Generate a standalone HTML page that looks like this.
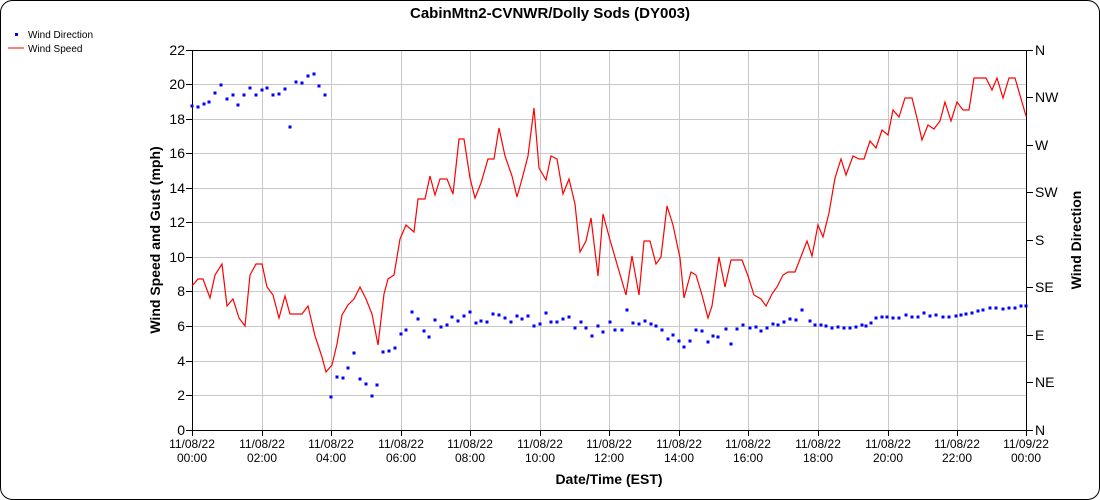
<!DOCTYPE html>
<html><head><meta charset="utf-8"><style>
html,body{margin:0;padding:0;background:#fff}
svg{display:block;font-family:"Liberation Sans",Arial,sans-serif}
</style></head><body>
<svg width="1100" height="500" viewBox="0 0 1100 500">
<rect x="0.5" y="0.5" width="1099" height="499" rx="12" fill="#fff" stroke="#000"/>
<text x="550" y="18" font-size="15" font-weight="bold" text-anchor="middle">CabinMtn2-CVNWR/Dolly Sods (DY003)</text>
<rect x="15" y="33" width="3" height="3" fill="#00f"/>
<text x="28" y="38" font-size="10">Wind Direction</text>
<line x1="8" y1="48" x2="24" y2="48" stroke="#f00"/>
<text x="28" y="52" font-size="10">Wind Speed</text>
<g stroke="#c8c8c8" stroke-width="1">
<line x1="192" y1="84.5" x2="1027" y2="84.5"/><line x1="192" y1="119.5" x2="1027" y2="119.5"/><line x1="192" y1="153.5" x2="1027" y2="153.5"/><line x1="192" y1="188.5" x2="1027" y2="188.5"/><line x1="192" y1="222.5" x2="1027" y2="222.5"/><line x1="192" y1="257.5" x2="1027" y2="257.5"/><line x1="192" y1="291.5" x2="1027" y2="291.5"/><line x1="192" y1="326.5" x2="1027" y2="326.5"/><line x1="192" y1="361.5" x2="1027" y2="361.5"/><line x1="192" y1="395.5" x2="1027" y2="395.5"/>
<line x1="262.5" y1="50" x2="262.5" y2="430"/><line x1="331.5" y1="50" x2="331.5" y2="430"/><line x1="401.5" y1="50" x2="401.5" y2="430"/><line x1="470.5" y1="50" x2="470.5" y2="430"/><line x1="540.5" y1="50" x2="540.5" y2="430"/><line x1="609.5" y1="50" x2="609.5" y2="430"/><line x1="679.5" y1="50" x2="679.5" y2="430"/><line x1="748.5" y1="50" x2="748.5" y2="430"/><line x1="818.5" y1="50" x2="818.5" y2="430"/><line x1="888.5" y1="50" x2="888.5" y2="430"/><line x1="957.5" y1="50" x2="957.5" y2="430"/>
</g>
<g stroke="#000">
<line x1="192.5" y1="50" x2="192.5" y2="430"/><line x1="1026.5" y1="50" x2="1026.5" y2="430"/><line x1="192" y1="430.5" x2="1027" y2="430.5"/><line x1="192" y1="50.5" x2="1027" y2="50.5"/>
<path d="M186 50.5h6M186 84.5h6M186 119.5h6M186 153.5h6M186 188.5h6M186 222.5h6M186 257.5h6M186 291.5h6M186 326.5h6M186 361.5h6M186 395.5h6M186 430.5h6"/>
<path d="M1027 50.5h6M1027 97.5h6M1027 145.5h6M1027 192.5h6M1027 240.5h6M1027 287.5h6M1027 335.5h6M1027 382.5h6M1027 430.5h6"/>
<path d="M192.5 430v6M262.5 430v6M331.5 430v6M401.5 430v6M470.5 430v6M540.5 430v6M609.5 430v6M679.5 430v6M748.5 430v6M818.5 430v6M888.5 430v6M957.5 430v6M1026.5 430v6"/>
</g>
<g font-size="14" text-anchor="end">
<text x="185" y="55">22</text><text x="185" y="89">20</text><text x="185" y="124">18</text><text x="185" y="158">16</text><text x="185" y="193">14</text><text x="185" y="227">12</text><text x="185" y="262">10</text><text x="185" y="296">8</text><text x="185" y="331">6</text><text x="185" y="366">4</text><text x="185" y="400">2</text><text x="185" y="435">0</text>
</g>
<g font-size="14">
<text x="1035" y="55">N</text><text x="1035" y="102">NW</text><text x="1035" y="150">W</text><text x="1035" y="197">SW</text><text x="1035" y="245">S</text><text x="1035" y="292">SE</text><text x="1035" y="340">E</text><text x="1035" y="387">NE</text><text x="1035" y="435">N</text>
</g>
<g font-size="12" text-anchor="middle">
<text x="192" y="448">11/08/22</text><text x="192" y="462">00:00</text>
<text x="262" y="448">11/08/22</text><text x="262" y="462">02:00</text>
<text x="331" y="448">11/08/22</text><text x="331" y="462">04:00</text>
<text x="401" y="448">11/08/22</text><text x="401" y="462">06:00</text>
<text x="470" y="448">11/08/22</text><text x="470" y="462">08:00</text>
<text x="540" y="448">11/08/22</text><text x="540" y="462">10:00</text>
<text x="609" y="448">11/08/22</text><text x="609" y="462">12:00</text>
<text x="679" y="448">11/08/22</text><text x="679" y="462">14:00</text>
<text x="748" y="448">11/08/22</text><text x="748" y="462">16:00</text>
<text x="818" y="448">11/08/22</text><text x="818" y="462">18:00</text>
<text x="888" y="448">11/08/22</text><text x="888" y="462">20:00</text>
<text x="957" y="448">11/08/22</text><text x="957" y="462">22:00</text>
<text x="1026" y="448">11/09/22</text><text x="1026" y="462">00:00</text>
</g>
<text x="609" y="484" font-size="14" font-weight="bold" text-anchor="middle">Date/Time (EST)</text>
<text transform="translate(160,240) rotate(-90)" font-size="14" font-weight="bold" text-anchor="middle">Wind Speed and Gust (mph)</text>
<text transform="translate(1081,240) rotate(-90)" font-size="14" font-weight="bold" text-anchor="middle">Wind Direction</text>
<polyline fill="none" stroke="#f00" stroke-width="1.2" points="192,286 198,279 203,279 210,298 215,275 222,264 227,306 233,299 239,318 245,326 250,275 256,264 262,264 267,287 273,295 279,318 285,296 290,314 302,314 308,306 315,336 322,357 326,372 332,365 337,344 342,315 348,305 354,299 360,287 366,299 372,314 378,345 384,294 388,279 394,275 400,239 406,225 414,232 418,199 425,199 430,176 435,195 440,179 447,179 453,194 459,139 464,139 470,178 475,198 481,183 488,159 494,159 499,128 505,156 512,176 517,197 522,179 528,156 534,108 539,168 546,180 551,156 557,159 563,194 569,179 575,204 580,252 586,241 591,218 598,276 603,214 610,240 626,295 632,256 639,295 644,241 650,241 656,264 661,257 667,206 673,225 680,258 684,298 691,272 696,275 702,295 708,318 712,306 719,257 725,287 731,260 742,260 748,276 754,295 761,299 766,306 772,294 777,287 783,275 788,272 795,272 807,241 812,256 818,225 823,237 829,213 835,178 841,159 846,175 853,156 859,159 864,159 870,141 876,148 882,130 888,135 893,110 899,117 905,98 912,98 917,118 922,140 928,125 934,129 940,121 945,102 951,121 957,102 963,110 969,110 974,78 986,78 992,90 997,78 1003,98 1009,78 1015,78 1026,116"/>
<path fill="none" stroke="#00f" stroke-width="3" stroke-linecap="square" d="M192 106h0M198 107h0M204 104h0M209 102h0M215 93h0M221 85h0M227 99h0M233 95h0M238 105h0M244 95h0M250 88h0M256 95h0M262 90h0M267 88h0M273 95h0M279 94h0M285 89h0M290 127h0M296 82h0M302 83h0M308 76h0M314 74h0M319 86h0M325 95h0M331 397h0M337 377h0M343 378h0M348 368h0M354 353h0M360 379h0M366 384h0M372 396h0M377 385h0M383 352h0M389 351h0M395 348h0M401 334h0M406 330h0M412 312h0M418 319h0M424 331h0M429 337h0M435 320h0M441 327h0M447 325h0M452 317h0M458 321h0M464 316h0M470 312h0M476 323h0M481 321h0M487 322h0M493 314h0M499 315h0M505 318h0M511 322h0M517 316h0M522 319h0M528 316h0M534 326h0M540 324h0M546 313h0M551 322h0M557 322h0M563 319h0M569 317h0M575 328h0M581 322h0M586 328h0M592 336h0M598 326h0M603 332h0M610 322h0M615 330h0M622 330h0M627 310h0M633 323h0M639 324h0M645 321h0M651 324h0M656 326h0M662 330h0M668 339h0M673 335h0M679 341h0M684 347h0M690 341h0M696 330h0M702 331h0M708 342h0M713 336h0M718 337h0M726 329h0M731 344h0M737 329h0M743 325h0M750 328h0M756 327h0M761 331h0M767 328h0M773 324h0M778 325h0M784 322h0M790 319h0M796 320h0M802 310h0M810 321h0M815 325h0M821 325h0M826 326h0M832 328h0M838 327h0M844 328h0M850 328h0M856 327h0M862 325h0M866 326h0M871 323h0M876 318h0M882 317h0M887 317h0M893 318h0M899 318h0M906 315h0M912 317h0M918 317h0M924 313h0M930 316h0M936 315h0M943 317h0M949 317h0M956 316h0M961 315h0M966 314h0M972 313h0M978 311h0M983 310h0M990 308h0M996 308h0M1003 309h0M1009 308h0M1015 308h0M1021 306h0M1026 306h0"/>
</svg>
</body></html>
